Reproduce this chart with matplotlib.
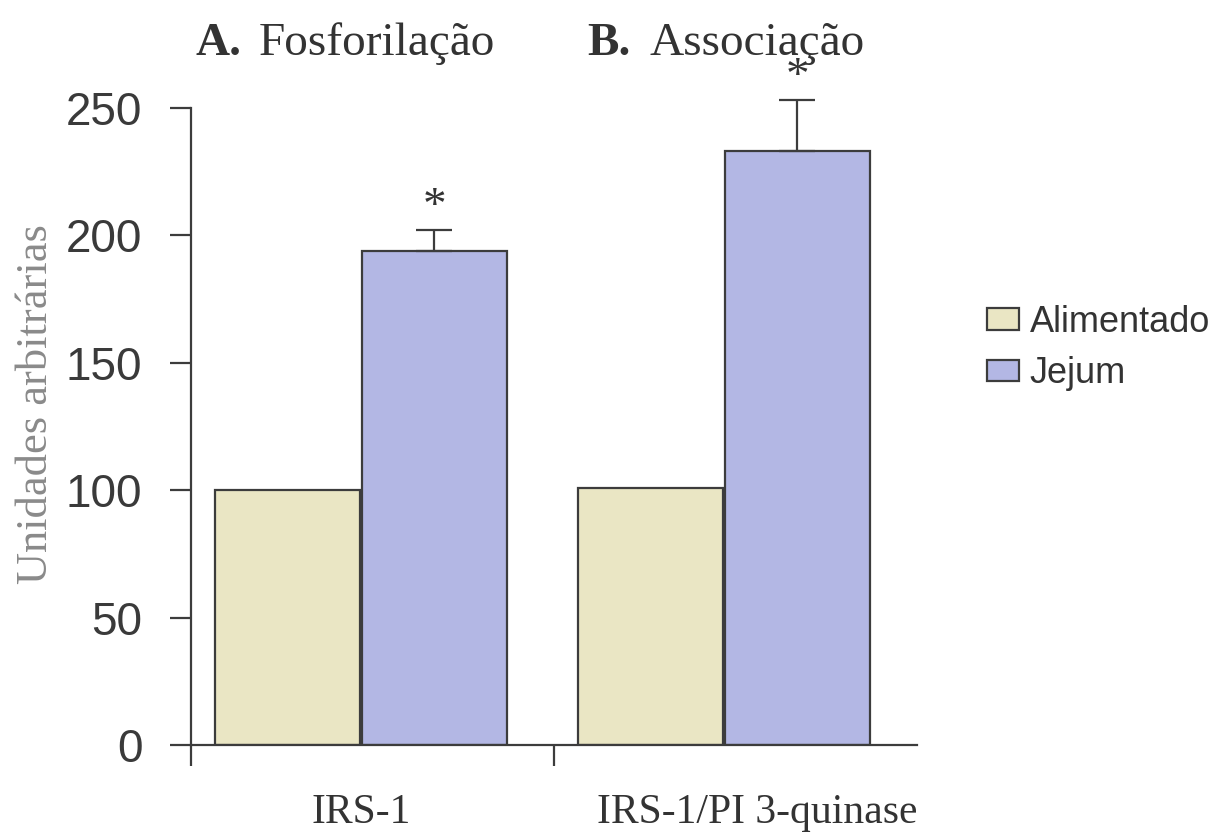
import numpy as np
import matplotlib
matplotlib.use('Agg')
import matplotlib.pyplot as plt

# data
categorias = ['IRS-1', 'IRS-1/PI 3-quinase']
alimentado = [100, 101]
jejum = [194, 233]
jejum_err = [8, 20]
series_labels = ['Alimentado', 'Jejum']

cor_alim = '#EAE6C4'
cor_jejum = '#B3B7E4'
cor_borda = '#3c3c3c'
serif = 'Liberation Serif'
sans = 'Liberation Sans'

fig = plt.figure(figsize=(12.21, 8.38), dpi=100)
ax = fig.add_axes([191/1221, 1-745/838, (917-191)/1221, (745-108)/838])

x = np.arange(len(categorias))
w = 0.40
b1 = ax.bar(x - 0.235, alimentado, w, color=cor_alim, edgecolor=cor_borda,
            linewidth=1.6, label=series_labels[0])
b2 = ax.bar(x + 0.17, jejum, w, color=cor_jejum, edgecolor=cor_borda,
            linewidth=1.6, label=series_labels[1])

eb = ax.errorbar(x + 0.17, jejum, yerr=[np.zeros(len(jejum)), jejum_err],
                 fmt='none', ecolor=cor_borda, elinewidth=1.6, capsize=13,
                 capthick=1.6)
for art in eb.get_children():
    art.set_clip_on(False)

# asterisks over the Jejum bars
for xi, m, e in zip(x + 0.17, jejum, jejum_err):
    ax.text(xi, m + e + 9, '*', ha='center', va='center', fontsize=34,
            family=serif, color='#333333')

ax.set_ylim(0, 250)
ax.set_xlim(-0.5, 1.5)
ax.set_yticks([0, 50, 100, 150, 200, 250])
ax.tick_params(axis='y', direction='out', length=15, width=1.6,
               color=cor_borda, pad=20, labelsize=33, labelcolor='#3a3a3a')
for lab in ax.get_yticklabels():
    lab.set_family(sans)

ax.set_xticks([-0.5, 0.5])
ax.set_xticklabels(['', ''])
ax.tick_params(axis='x', which='major', direction='out', length=15,
               width=1.6, color=cor_borda)
ax.set_xticks([-0.03, 1.06], minor=True)
ax.set_xticklabels(categorias, minor=True, family=serif, fontsize=30,
                   color='#333333')
ax.tick_params(axis='x', which='minor', length=0, pad=35)

for s in ['top', 'right']:
    ax.spines[s].set_visible(False)
for s in ['left', 'bottom']:
    ax.spines[s].set_color(cor_borda)
    ax.spines[s].set_linewidth(1.6)

ax.set_ylabel('Unidades arbitrárias', family=serif, fontsize=32,
              color='#8a8a8a')
ax.yaxis.set_label_coords(-(191-56)/726, 0.535)

# panel titles
fig.text(195/1221, 1-55/838, 'A.', family=serif, fontweight='bold',
         fontsize=34, color='#333333', va='baseline')
fig.text(259/1221, 1-55/838, 'Fosforilação', family=serif,
         fontsize=34, color='#333333', va='baseline')
fig.text(587/1221, 1-55/838, 'B.', family=serif, fontweight='bold',
         fontsize=34, color='#333333', va='baseline')
fig.text(649/1221, 1-55/838, 'Associação', family=serif,
         fontsize=34, color='#333333', va='baseline')

leg = fig.legend(handles=[b1, b2], labels=series_labels,
                 loc='upper left', bbox_to_anchor=(987/1221, 1-305/838),
                 frameon=False, prop={'family': sans, 'size': 26},
                 handlelength=0.88, handleheight=0.55, handletextpad=0.3,
                 labelspacing=0.45, borderpad=0, borderaxespad=0)
for t in leg.get_texts():
    t.set_color('#333333')

fig.savefig('out.png', dpi=100)
